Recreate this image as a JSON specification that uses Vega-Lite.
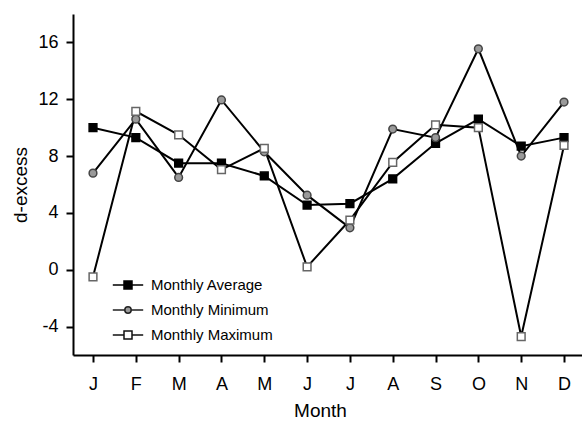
{
  "$schema": "https://vega.github.io/schema/vega-lite/v6.json",
  "width": 509,
  "height": 341,
  "autosize": {"type": "none"},
  "padding": {"left": 73, "top": 14, "right": 0, "bottom": 66},
  "background": "white",
  "config": {
    "view": {"stroke": null},
    "font": "Liberation Sans",
    "axis": {"grid": false, "domainColor": "black", "domainWidth": 2, "tickColor": "black", "tickWidth": 2, "labelColor": "black", "titleColor": "black", "labelFont": "Liberation Sans", "titleFont": "Liberation Sans", "labelFontSize": 18, "titleFontSize": 19, "titleFontWeight": "normal"},
    "legend": {"labelFontSize": 15, "labelColor": "black", "labelFont": "Liberation Sans"}
  },
  "data": {
    "values": [
      {"month": 1, "series": "Monthly Average", "value": 10.0},
      {"month": 2, "series": "Monthly Average", "value": 9.3},
      {"month": 3, "series": "Monthly Average", "value": 7.5},
      {"month": 4, "series": "Monthly Average", "value": 7.5},
      {"month": 5, "series": "Monthly Average", "value": 6.6},
      {"month": 6, "series": "Monthly Average", "value": 4.55},
      {"month": 7, "series": "Monthly Average", "value": 4.65},
      {"month": 8, "series": "Monthly Average", "value": 6.4},
      {"month": 9, "series": "Monthly Average", "value": 8.9},
      {"month": 10, "series": "Monthly Average", "value": 10.6},
      {"month": 11, "series": "Monthly Average", "value": 8.7},
      {"month": 12, "series": "Monthly Average", "value": 9.3},
      {"month": 1, "series": "Monthly Minimum", "value": 6.8},
      {"month": 2, "series": "Monthly Minimum", "value": 10.6},
      {"month": 3, "series": "Monthly Minimum", "value": 6.5},
      {"month": 4, "series": "Monthly Minimum", "value": 11.95},
      {"month": 5, "series": "Monthly Minimum", "value": 8.3},
      {"month": 6, "series": "Monthly Minimum", "value": 5.25},
      {"month": 7, "series": "Monthly Minimum", "value": 2.95},
      {"month": 8, "series": "Monthly Minimum", "value": 9.9},
      {"month": 9, "series": "Monthly Minimum", "value": 9.3},
      {"month": 10, "series": "Monthly Minimum", "value": 15.55},
      {"month": 11, "series": "Monthly Minimum", "value": 8.0},
      {"month": 12, "series": "Monthly Minimum", "value": 11.8},
      {"month": 1, "series": "Monthly Maximum", "value": -0.5},
      {"month": 2, "series": "Monthly Maximum", "value": 11.15},
      {"month": 3, "series": "Monthly Maximum", "value": 9.5},
      {"month": 4, "series": "Monthly Maximum", "value": 7.05},
      {"month": 5, "series": "Monthly Maximum", "value": 8.55},
      {"month": 6, "series": "Monthly Maximum", "value": 0.2},
      {"month": 7, "series": "Monthly Maximum", "value": 3.5},
      {"month": 8, "series": "Monthly Maximum", "value": 7.55},
      {"month": 9, "series": "Monthly Maximum", "value": 10.2},
      {"month": 10, "series": "Monthly Maximum", "value": 10.0},
      {"month": 11, "series": "Monthly Maximum", "value": -4.7},
      {"month": 12, "series": "Monthly Maximum", "value": 8.75}
    ]
  },
  "encoding": {
    "x": {
      "field": "month", "type": "quantitative", "title": "Month",
      "scale": {"domain": [0.533, 12.42], "nice": false, "zero": false},
      "axis": {"values": [1,2,3,4,5,6,7,8,9,10,11,12], "labelExpr": "['J','F','M','A','M','J','J','A','S','O','N','D'][datum.value - 1]", "tickSize": 7, "labelPadding": 13, "titlePadding": 8, "labelFlush": false, "titleX": 247}
    },
    "y": {
      "field": "value", "type": "quantitative", "title": "d-excess",
      "scale": {"domain": [-6, 18], "nice": false, "zero": false},
      "axis": {"values": [-4, 0, 4, 8, 12, 16], "labelExpr": "'' + datum.value", "tickSize": 7, "labelPadding": 8, "titlePadding": 7}
    }
  },
  "layer": [
    {
      "mark": {"type": "line", "color": "black", "strokeWidth": 2},
      "encoding": {"detail": {"field": "series"}}
    },
    {
      "mark": {"type": "point", "filled": true, "size": 0, "strokeWidth": 1.5, "opacity": 1},
      "encoding": {
        "shape": {"field": "series", "type": "nominal", "title": null,
          "scale": {"domain": ["Monthly Average", "Monthly Minimum", "Monthly Maximum"], "range": ["M-1.9,0H-0.5M0.5,0H1.9M-0.5,-0.5H0.5V0.5H-0.5Z", "M-1.9,0H-0.4M0.4,0H1.9M-0.4,0A0.4,0.4 0 1,0 0.4,0A0.4,0.4 0 1,0 -0.4,0Z", "M-1.9,0H-0.5M0.5,0H1.9M-0.5,-0.5H0.5V0.5H-0.5Z"]},
          "legend": {"orient": "none", "legendX": 46, "legendY": 262, "symbolSize": 256, "labelOffset": 14, "rowPadding": 8, "symbolOpacity": 1, "symbolStrokeWidth": 1.5}
        },
        "fill": {"field": "series", "type": "nominal", "title": null,
          "scale": {"domain": ["Monthly Average", "Monthly Minimum", "Monthly Maximum"], "range": ["black", "#9a9a9a", "white"]},
          "legend": {"orient": "none", "legendX": 46, "legendY": 262, "symbolSize": 256, "labelOffset": 14, "rowPadding": 8, "symbolOpacity": 1, "symbolStrokeWidth": 1.5}
        },
        "stroke": {"field": "series", "type": "nominal", "title": null,
          "scale": {"domain": ["Monthly Average", "Monthly Minimum", "Monthly Maximum"], "range": ["black", "#222222", "#111111"]},
          "legend": {"orient": "none", "legendX": 46, "legendY": 262, "symbolSize": 256, "labelOffset": 14, "rowPadding": 8, "symbolOpacity": 1, "symbolStrokeWidth": 1.5}
        }
      }
    },
    {
      "mark": {"type": "point", "filled": true, "size": 60, "strokeWidth": 1.5, "opacity": 1},
      "encoding": {
        "shape": {"field": "series", "type": "nominal", "scale": {"domain": ["Monthly Average", "Monthly Minimum", "Monthly Maximum"], "range": ["square", "circle", "square"]}, "legend": null},
        "fill": {"field": "series", "type": "nominal", "scale": {"domain": ["Monthly Average", "Monthly Minimum", "Monthly Maximum"], "range": ["black", "#9a9a9a", "white"]}, "legend": null},
        "stroke": {"field": "series", "type": "nominal", "scale": {"domain": ["Monthly Average", "Monthly Minimum", "Monthly Maximum"], "range": ["black", "#444444", "#666666"]}, "legend": null}
      }
    }
  ],
  "resolve": {"scale": {"shape": "independent", "fill": "independent", "stroke": "independent"}, "legend": {"shape": "independent", "fill": "independent", "stroke": "independent"}}
}
